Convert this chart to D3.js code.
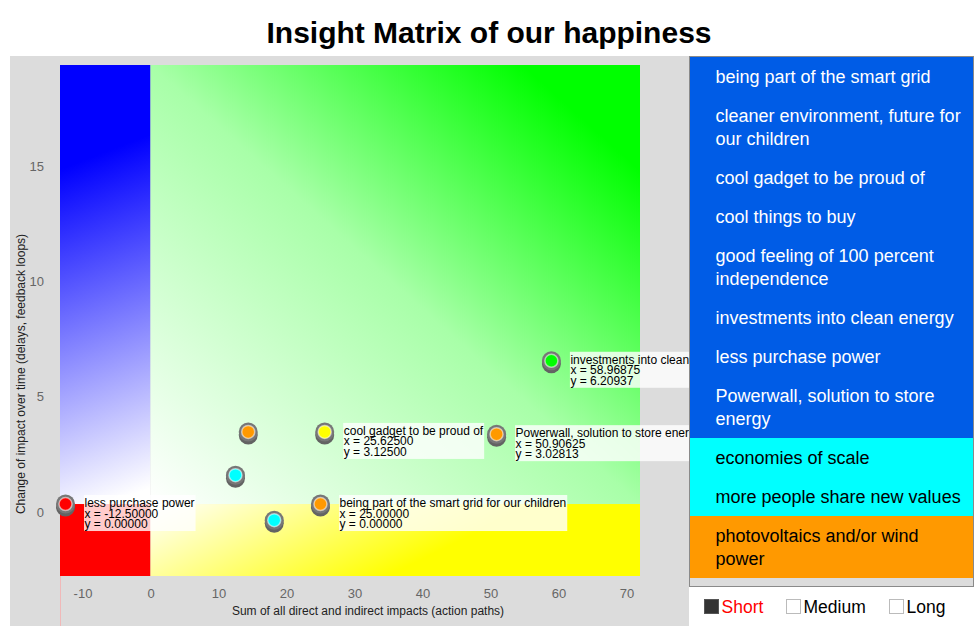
<!DOCTYPE html>
<html>
<head>
<meta charset="utf-8">
<script src="https://cdn.jsdelivr.net/npm/d3@7"></script>
<style>
  html, body { margin: 0; padding: 0; background: #ffffff; }
  svg { display: block; font-family: "Liberation Sans", Arial, Helvetica, sans-serif; }
</style>
</head>
<body>
<svg id="chart" width="979" height="630"></svg>
<script>
// ---------------- data ----------------
const chartTitle = "Insight Matrix of our happiness";
const xAxisTitle = "Sum of all direct and indirect impacts (action paths)";
const yAxisTitle = "Change of impact over time (delays, feedback loops)";

const xDomain = [-13.31, 72];
const yDomain = [-3.12, 19.03];
const xTickValues = [-10, 0, 10, 20, 30, 40, 50, 60, 70];
const yTickValues = [0, 5, 10, 15];

const pointNames = [
  "less purchase power",
  "being part of the smart grid for our children",
  "cool gadget to be proud of",
  "Powerwall, solution to store energy",
  "investments into clean energy",
  "photovoltaics and/or wind power",
  "economies of scale",
  "more people share new values"
];
const pointX = [-12.5, 25.0, 25.625, 50.90625, 58.96875, 14.375, 12.5, 18.2];
const pointY = [0.0, 0.0, 3.125, 3.02813, 6.20937, 3.125, 1.25, -0.7];
const pointColors = ["#ff0000", "#ff9900", "#ffff00", "#ff9900", "#00ff00", "#ff9900", "#00ffff", "#00ffff"];
const pointLabelled = [true, true, true, true, true, false, false, false];

const legendNames = [
  "being part of the smart grid",
  "cleaner environment, future for our children",
  "cool gadget to be proud of",
  "cool things to buy",
  "good feeling of 100 percent independence",
  "investments into clean energy",
  "less purchase power",
  "Powerwall, solution to store energy",
  "economies of scale",
  "more people share new values",
  "photovoltaics and/or wind power"
];
const legendFill = ["#005ce6", "#005ce6", "#005ce6", "#005ce6", "#005ce6", "#005ce6", "#005ce6", "#005ce6", "#00ffff", "#00ffff", "#ff9900"];
const legendTextColor = ["#ffffff", "#ffffff", "#ffffff", "#ffffff", "#ffffff", "#ffffff", "#ffffff", "#ffffff", "#000000", "#000000", "#000000"];

const horizonNames = ["Short", "Medium", "Long"];
const horizonChecked = [true, false, false];

// ---------------- drawing ----------------
const svg = d3.select("#chart");
const hyphen = s => String(s).replace(/\u2212/g, "-");

// gray backdrop
svg.append("rect").attr("x", 10).attr("y", 56).attr("width", 679).attr("height", 570).attr("fill", "#dcdcdc");

// title
svg.append("text").attr("x", 489).attr("y", 43).attr("text-anchor", "middle")
  .attr("font-size", 30).attr("font-weight", "bold").attr("fill", "#000").text(chartTitle);

const x = d3.scaleLinear().domain(xDomain).range([60, 640]);
const y = d3.scaleLinear().domain(yDomain).range([576, 65]);

// gradients
const defs = svg.append("defs");
const gBlue = defs.append("linearGradient").attr("id", "gBlue")
  .attr("x1", "46%").attr("y1", "0%").attr("x2", "54%").attr("y2", "100%");
gBlue.append("stop").attr("offset", "0.2").attr("stop-color", "#0000ff");
gBlue.append("stop").attr("offset", "1").attr("stop-color", "#ffffff");

const gGreen = defs.append("linearGradient").attr("id", "gGreen")
  .attr("x1", "0%").attr("y1", "100%").attr("x2", "100%").attr("y2", "0%");
gGreen.append("stop").attr("offset", "0").attr("stop-color", "#ffffff");
gGreen.append("stop").attr("offset", "0.5").attr("stop-color", "#a8ffa8");
gGreen.append("stop").attr("offset", "0.88").attr("stop-color", "#00ff00");

const gYellow = defs.append("linearGradient").attr("id", "gYellow")
  .attr("x1", "0%").attr("y1", "0%").attr("x2", "100%").attr("y2", "30%");
gYellow.append("stop").attr("offset", "0").attr("stop-color", "#ffffff");
gYellow.append("stop").attr("offset", "0.72").attr("stop-color", "#ffff00");

// quadrants
const x0 = x(xDomain[0]), xz = x(0), x1 = x(xDomain[1]);
const y0 = y(yDomain[0]), yz = y(0), y1 = y(yDomain[1]);
svg.append("rect").attr("x", x0).attr("y", y1).attr("width", xz - x0).attr("height", yz - y1).attr("fill", "url(#gBlue)");
svg.append("rect").attr("x", xz).attr("y", y1).attr("width", x1 - xz).attr("height", yz - y1).attr("fill", "url(#gGreen)");
svg.append("rect").attr("x", x0).attr("y", yz).attr("width", xz - x0).attr("height", y0 - yz).attr("fill", "#ff0000");
svg.append("rect").attr("x", xz).attr("y", yz).attr("width", x1 - xz).attr("height", y0 - yz).attr("fill", "url(#gYellow)");

// faint axis line below plot
svg.append("line").attr("x1", 60.5).attr("x2", 60.5).attr("y1", 576).attr("y2", 626)
  .attr("stroke", "#f0b8b8").attr("stroke-width", 1);

// axes
const xAxis = svg.append("g").attr("transform", "translate(0,576)")
  .call(d3.axisBottom(x).tickValues(xTickValues).tickSize(0).tickPadding(12.5).tickFormat(d => hyphen(d)));
xAxis.select(".domain").remove();
xAxis.selectAll("text").attr("font-size", 13).attr("fill", "#666").attr("font-family", null);

const yAxis = svg.append("g").attr("transform", "translate(53,0)")
  .call(d3.axisLeft(y).tickValues(yTickValues).tickSize(0).tickPadding(9).tickFormat(d => hyphen(d)));
yAxis.select(".domain").remove();
yAxis.selectAll("text").attr("font-size", 13).attr("fill", "#666").attr("dy", "0.94em").attr("font-family", null);

// axis titles
svg.append("text").attr("x", 368).attr("y", 615).attr("text-anchor", "middle")
  .attr("font-size", 12).attr("fill", "#222").text(xAxisTitle);
svg.append("text").attr("transform", "translate(25,374) rotate(-90)").attr("text-anchor", "middle")
  .attr("font-size", 12).attr("fill", "#222").text(yAxisTitle);

// points
const pts = pointNames.map((n, i) => ({ name: n, x: pointX[i], y: pointY[i], color: pointColors[i], lab: pointLabelled[i] }));
const pg = svg.append("g");
const mk = pg.selectAll("g.pt").data(pts).join("g").attr("class", "pt")
  .attr("transform", d => `translate(${x(d.x)},${y(d.y)})`);
mk.append("circle").attr("cy", 3).attr("r", 9.5).attr("fill", "#636363");
mk.append("circle").attr("cy", 0).attr("r", 9.5).attr("fill", "#777777");
mk.append("circle").attr("r", 6.5).attr("fill", d => d.color)
  .attr("stroke", "rgba(255,255,255,0.55)").attr("stroke-width", 1.5);

// labels
const fmt = v => hyphen(d3.format(".5f")(v));
const lg = svg.append("g");
pts.filter(d => d.lab).forEach(d => {
  const cx = x(d.x), cy = y(d.y);
  const g = lg.append("g").attr("transform", `translate(${cx + 18.5},${cy - 9})`);
  const rect = g.append("rect").attr("x", 0).attr("y", 0).attr("height", 36).attr("fill", "rgba(255,255,255,0.8)");
  const lines = [d.name, "x = " + fmt(d.x), "y = " + fmt(d.y)];
  let w = 0;
  lines.forEach((t, k) => {
    const tx = g.append("text").attr("x", 0.5).attr("y", 12 + k * 10.5)
      .attr("font-size", 12).attr("fill", "#000").text(t);
    w = Math.max(w, tx.node().getComputedTextLength());
  });
  rect.attr("width", w + 1.5);
});

// legend panel
const panel = svg.append("g");
panel.append("rect").attr("x", 689.5).attr("y", 56.5).attr("width", 284).attr("height", 530)
  .attr("fill", "#dcdcdc").attr("stroke", "#8a8a8a").attr("stroke-width", 1);

function wrapWords(text, maxW, size) {
  const tmp = svg.append("text").attr("font-size", size);
  const words = text.split(" ");
  const lines = [];
  let cur = "";
  words.forEach(wd => {
    const trial = cur ? cur + " " + wd : wd;
    tmp.text(trial);
    if (tmp.node().getComputedTextLength() > maxW && cur) {
      lines.push(cur);
      cur = wd;
    } else cur = trial;
  });
  if (cur) lines.push(cur);
  tmp.remove();
  return lines;
}

let ty = 57;
legendNames.forEach((n, i) => {
  const lines = wrapWords(n, 248, 18);
  const h = 16 + 23 * lines.length;
  panel.append("rect").attr("x", 690).attr("y", ty).attr("width", 283).attr("height", h).attr("fill", legendFill[i]);
  lines.forEach((t, k) => {
    panel.append("text").attr("x", 715.5).attr("y", ty + 25.5 + 23 * k)
      .attr("font-size", 18).attr("fill", legendTextColor[i]).text(t);
  });
  ty += h;
});

// horizon checkboxes
const boxX = [704, 786, 889];
horizonNames.forEach((n, i) => {
  panel.append("rect").attr("x", boxX[i] + 0.5).attr("y", 599.5).attr("width", 14).attr("height", 14)
    .attr("fill", horizonChecked[i] ? "#333333" : "#ffffff")
    .attr("stroke", horizonChecked[i] ? "#555555" : "#bbbbbb").attr("stroke-width", 1);
  panel.append("text").attr("x", boxX[i] + 17.5).attr("y", 613)
    .attr("font-size", 17.5).attr("fill", horizonChecked[i] ? "#ff0000" : "#000000").text(n);
});
</script>
</body>
</html>
